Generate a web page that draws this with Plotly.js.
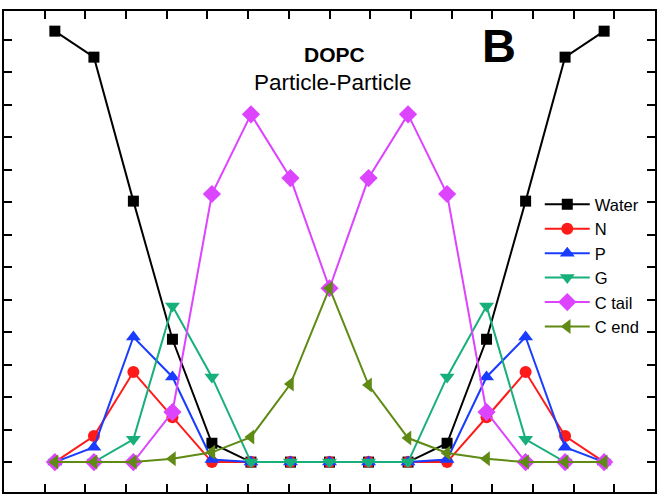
<!DOCTYPE html>
<html><head><meta charset="utf-8">
<script src="https://cdn.plot.ly/plotly-3.0.1.min.js"></script>
<style>html,body{margin:0;padding:0;background:#fff}</style>
</head><body>
<div id="chart" style="width:662px;height:501px"></div>
<script>
// positions along the membrane normal (in tick units)
const xPos = [1.25, 2.21, 3.18, 4.14, 5.11, 6.07, 7.04, 8.0, 8.96, 9.93, 10.89, 11.86, 12.82, 13.79, 14.75];
const seriesNames = ["Water", "N", "P", "G", "C tail", "C end"];
const water = [13.26, 12.46, 8.03, 3.78, 0.58, 0, 0, 0, 0, 0, 0.58, 3.78, 8.03, 12.46, 13.26];
const nHead = [0, 0.8, 2.77, 1.38, 0.0, 0, 0, 0, 0, 0, 0.0, 1.38, 2.77, 0.8, 0];
const pHead = [0, 0.46, 3.85, 2.62, 0.08, 0, 0, 0, 0, 0, 0.08, 2.62, 3.85, 0.46, 0];
const gly = [0, 0, 0.7, 4.8, 2.62, 0, 0, 0, 0, 0, 2.62, 4.8, 0.7, 0, 0];
const cTail = [0, 0, 0, 1.54, 8.25, 10.7, 8.74, 5.35, 8.74, 10.7, 8.25, 1.54, 0, 0, 0];
const cEnd = [0, 0, 0, 0.1, 0.3, 0.77, 2.4, 5.35, 2.37, 0.74, 0.28, 0.1, 0, 0, 0];

const colors = ["#000000", "#ff1a1a", "#1a3cff", "#17b07a", "#dd44ff", "#5f8a14"];
const symbols = ["square", "circle", "triangle-up", "triangle-down", "diamond", "triangle-left"];
const sizes = [11, 12, 13, 13, 14, 13];
const values = [water, nHead, pHead, gly, cTail, cEnd];

const traces = values.map((v, k) => ({
  x: xPos, y: v, name: seriesNames[k], type: "scatter", mode: "lines+markers",
  line: {color: colors[k], width: 2},
  marker: {color: colors[k], symbol: symbols[k], size: sizes[k]}
}));

const axisCommon = {
  showgrid: false, zeroline: false, showline: true, linecolor: "#000", linewidth: 2,
  mirror: "allticks", ticks: "inside", ticklen: 8, tickwidth: 2, tickcolor: "#000",
  showticklabels: false, dtick: 1, tick0: 0
};

const FONT = "Liberation Sans, Arial, sans-serif";
const layout = {
  width: 662, height: 501,
  margin: {l: 4, r: 7, t: 11, b: 9},
  paper_bgcolor: "#fff", plot_bgcolor: "#fff",
  showlegend: true,
  legend: {x: 0.823, y: 0.634, xanchor: "left", yanchor: "top", bgcolor: "rgba(0,0,0,0)",
    font: {family: FONT, size: 16.5, color: "#000"},
    itemwidth: 45, tracegroupgap: 0},
  xaxis: Object.assign({}, axisCommon, {range: [0, 16]}),
  yaxis: Object.assign({}, axisCommon, {range: [-0.92, 13.88]}),
  annotations: [
    {text: "<b>DOPC</b>", xref: "paper", yref: "paper", x: 0.507, y: 0.9096,
     xanchor: "center", yanchor: "middle", showarrow: false,
     font: {family: FONT, size: 21, color: "#000"}},
    {text: "Particle-Particle", xref: "paper", yref: "paper", x: 0.505, y: 0.852,
     xanchor: "center", yanchor: "middle", showarrow: false,
     font: {family: FONT, size: 22.5, color: "#000"}},
    {text: "<b>B</b>", xref: "paper", yref: "paper", x: 0.760, y: 0.929,
     xanchor: "center", yanchor: "middle", showarrow: false,
     font: {family: FONT, size: 47, color: "#000"}}
  ]
};

Plotly.newPlot("chart", traces, layout, {displayModeBar: false, staticPlot: true});
</script>
</body></html>
